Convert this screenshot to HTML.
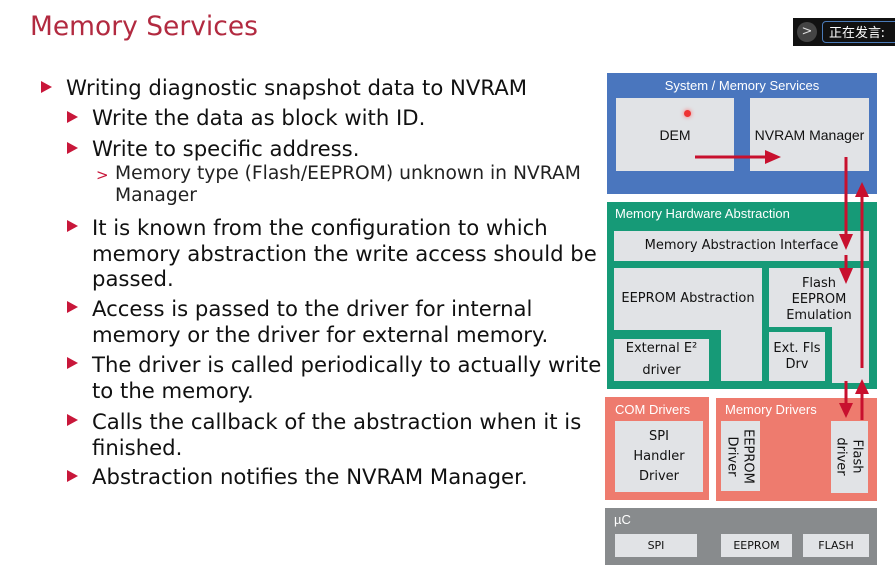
<!DOCTYPE html>
<html><head><meta charset="utf-8"><style>
body{margin:0;width:895px;height:577px;background:#fff;position:relative;overflow:hidden;font-family:"DejaVu Sans","Liberation Sans",sans-serif;}
.a{position:absolute;white-space:nowrap;}
.t{font-size:21.2px;color:#111;line-height:24px;}
.s{font-size:18.7px;color:#222;line-height:22px;}
.tri{position:absolute;width:0;height:0;border-left:11px solid #c8173a;border-top:6px solid transparent;border-bottom:6px solid transparent;}
.b{position:absolute;box-sizing:border-box;}
.g{background:#e1e3e6;}
.d{font-family:"DejaVu Sans","Liberation Sans",sans-serif;font-size:13px;color:#111;display:flex;align-items:center;justify-content:center;text-align:center;line-height:16px;}
.lbl{position:absolute;font-family:"Liberation Sans",sans-serif;font-size:13px;color:#fff;}
</style></head><body>
<div class="a" style="left:30px;top:11px;font-size:26.5px;color:#b22a40;">Memory Services</div>
<div class="b" style="left:793px;top:18px;width:102px;height:28px;background:#111;"></div>
<div class="b" style="left:797px;top:22px;width:20px;height:20px;border-radius:50%;background:#444;color:#ddd;font-size:13px;text-align:center;line-height:20px;">&gt;</div>
<div class="b" style="left:822px;top:21px;width:80px;height:22px;border:1px solid #4a7ab8;border-radius:4px;color:#fff;font-family:'Noto Sans CJK SC',sans-serif;font-size:13px;line-height:20px;padding-left:6px;">正在发言:</div>

<div class="tri" style="left:41px;top:81px"></div><div class="a t" style="left:66px;top:76px">Writing diagnostic snapshot data to NVRAM</div>
<div class="tri" style="left:67px;top:111px"></div><div class="a t" style="left:92px;top:106px">Write the data as block with ID.</div>
<div class="tri" style="left:67px;top:142px"></div><div class="a t" style="left:92px;top:137px">Write to specific address.</div>
<div class="a s" style="left:96px;top:164px;color:#c8173a;font-size:15px">&gt;</div>
<div class="a s" style="left:115px;top:163px">Memory type (Flash/EEPROM) unknown in NVRAM<br>Manager</div>
<div class="tri" style="left:67px;top:220px"></div><div class="a t" style="left:92px;top:215px;line-height:25.5px">It is known from the configuration to which<br>memory abstraction the write access should be<br>passed.</div>
<div class="tri" style="left:67px;top:301px"></div><div class="a t" style="left:92px;top:296px;line-height:25.5px">Access is passed to the driver for internal<br>memory or the driver for external memory.</div>
<div class="tri" style="left:67px;top:357px"></div><div class="a t" style="left:92px;top:352px;line-height:25.5px">The driver is called periodically to actually write<br>to the memory.</div>
<div class="tri" style="left:67px;top:414px"></div><div class="a t" style="left:92px;top:409px;line-height:25.5px">Calls the callback of the abstraction when it is<br>finished.</div>
<div class="tri" style="left:67px;top:470px"></div><div class="a t" style="left:92px;top:465px">Abstraction notifies the NVRAM Manager.</div>

<!-- blue -->
<div class="b" style="left:607px;top:73px;width:270px;height:121px;background:#4a76be;"></div>
<div class="lbl" style="left:607px;width:270px;text-align:center;top:78px;">System / Memory Services</div>
<div class="b g d" style="left:616px;top:98px;width:118px;height:73px;font-family:'Liberation Sans',sans-serif;font-size:14px">DEM</div>
<div class="b" style="left:684px;top:110px;width:7px;height:7px;border-radius:50%;background:#e33;box-shadow:0 0 4px #f66;"></div>
<div class="b g d" style="left:750px;top:98px;width:119px;height:73px;font-family:'Liberation Sans',sans-serif;font-size:14px">NVRAM Manager</div>
<!-- green -->
<div class="b" style="left:607px;top:202px;width:270px;height:187px;background:#169a77;"></div>
<div class="lbl" style="left:615px;top:206px;">Memory Hardware Abstraction</div>
<div class="b g d" style="left:614px;top:231px;width:255px;height:30px;">Memory Abstraction Interface</div>
<div class="b g" style="left:614px;top:268px;width:148px;height:113px;"></div>
<div class="b" style="left:614px;top:330px;width:107px;height:51px;background:#169a77;"></div>
<div class="b g d" style="left:614px;top:339px;width:95px;height:42px;line-height:22px;">External E²<br>driver</div>
<div class="b d" style="left:614px;top:268px;width:148px;height:62px;">EEPROM Abstraction</div>
<div class="b g" style="left:769px;top:268px;width:100px;height:115px;"></div>
<div class="b" style="left:769px;top:327px;width:63px;height:56px;background:#169a77;"></div>
<div class="b d" style="left:769px;top:272px;width:100px;height:55px;">Flash<br>EEPROM<br>Emulation</div>
<div class="b g d" style="left:769px;top:332px;width:56px;height:49px;">Ext. Fls<br>Drv</div>
<!-- red -->
<div class="b" style="left:605px;top:397px;width:104px;height:103px;background:#ee7b6e;"></div>
<div class="lbl" style="left:615px;top:402px;">COM Drivers</div>
<div class="b g d" style="left:615px;top:421px;width:88px;height:71px;line-height:20px;">SPI<br>Handler<br>Driver</div>
<div class="b" style="left:716px;top:398px;width:161px;height:103px;background:#ee7b6e;"></div>
<div class="lbl" style="left:725px;top:402px;">Memory Drivers</div>
<div class="b g" style="left:721px;top:421px;width:39px;height:70px;"></div>
<div class="a d" style="left:705px;top:437px;width:70px;height:39px;transform:rotate(90deg);line-height:16px;">EEPROM<br>Driver</div>
<div class="b g" style="left:831px;top:421px;width:37px;height:72px;"></div>
<div class="a d" style="left:814px;top:438px;width:70px;height:37px;transform:rotate(90deg);line-height:16px;">Flash<br>driver</div>
<!-- uC -->
<div class="b" style="left:605px;top:508px;width:272px;height:57px;background:#888b8d;"></div>
<div class="lbl" style="left:614px;top:512px;">µC</div>
<div class="b g d" style="left:615px;top:534px;width:82px;height:23px;font-size:11px;">SPI</div>
<div class="b g d" style="left:721px;top:534px;width:71px;height:23px;font-size:11px;">EEPROM</div>
<div class="b g d" style="left:803px;top:534px;width:66px;height:23px;font-size:11px;">FLASH</div>
<!-- arrows -->
<svg class="a" style="left:0;top:0" width="895" height="577">
<g stroke="#c8102e" stroke-width="3" fill="#c8102e">
<line x1="695" y1="157" x2="766" y2="157"/><polygon points="765,150 781,157 765,164" stroke="none"/>
<line x1="846" y1="157" x2="846" y2="236"/><polygon points="839,234 846,250 853,234" stroke="none"/>
<line x1="846" y1="255" x2="846" y2="270"/><polygon points="839,268 846,284 853,268" stroke="none"/>
<line x1="862" y1="368" x2="862" y2="195"/><polygon points="855,197 862,182 869,197" stroke="none"/>
<line x1="846" y1="381" x2="846" y2="405"/><polygon points="839,403 846,418 853,403" stroke="none"/>
<line x1="862" y1="420" x2="862" y2="393"/><polygon points="855,394 862,379 869,394" stroke="none"/>
</g></svg>
</body></html>
